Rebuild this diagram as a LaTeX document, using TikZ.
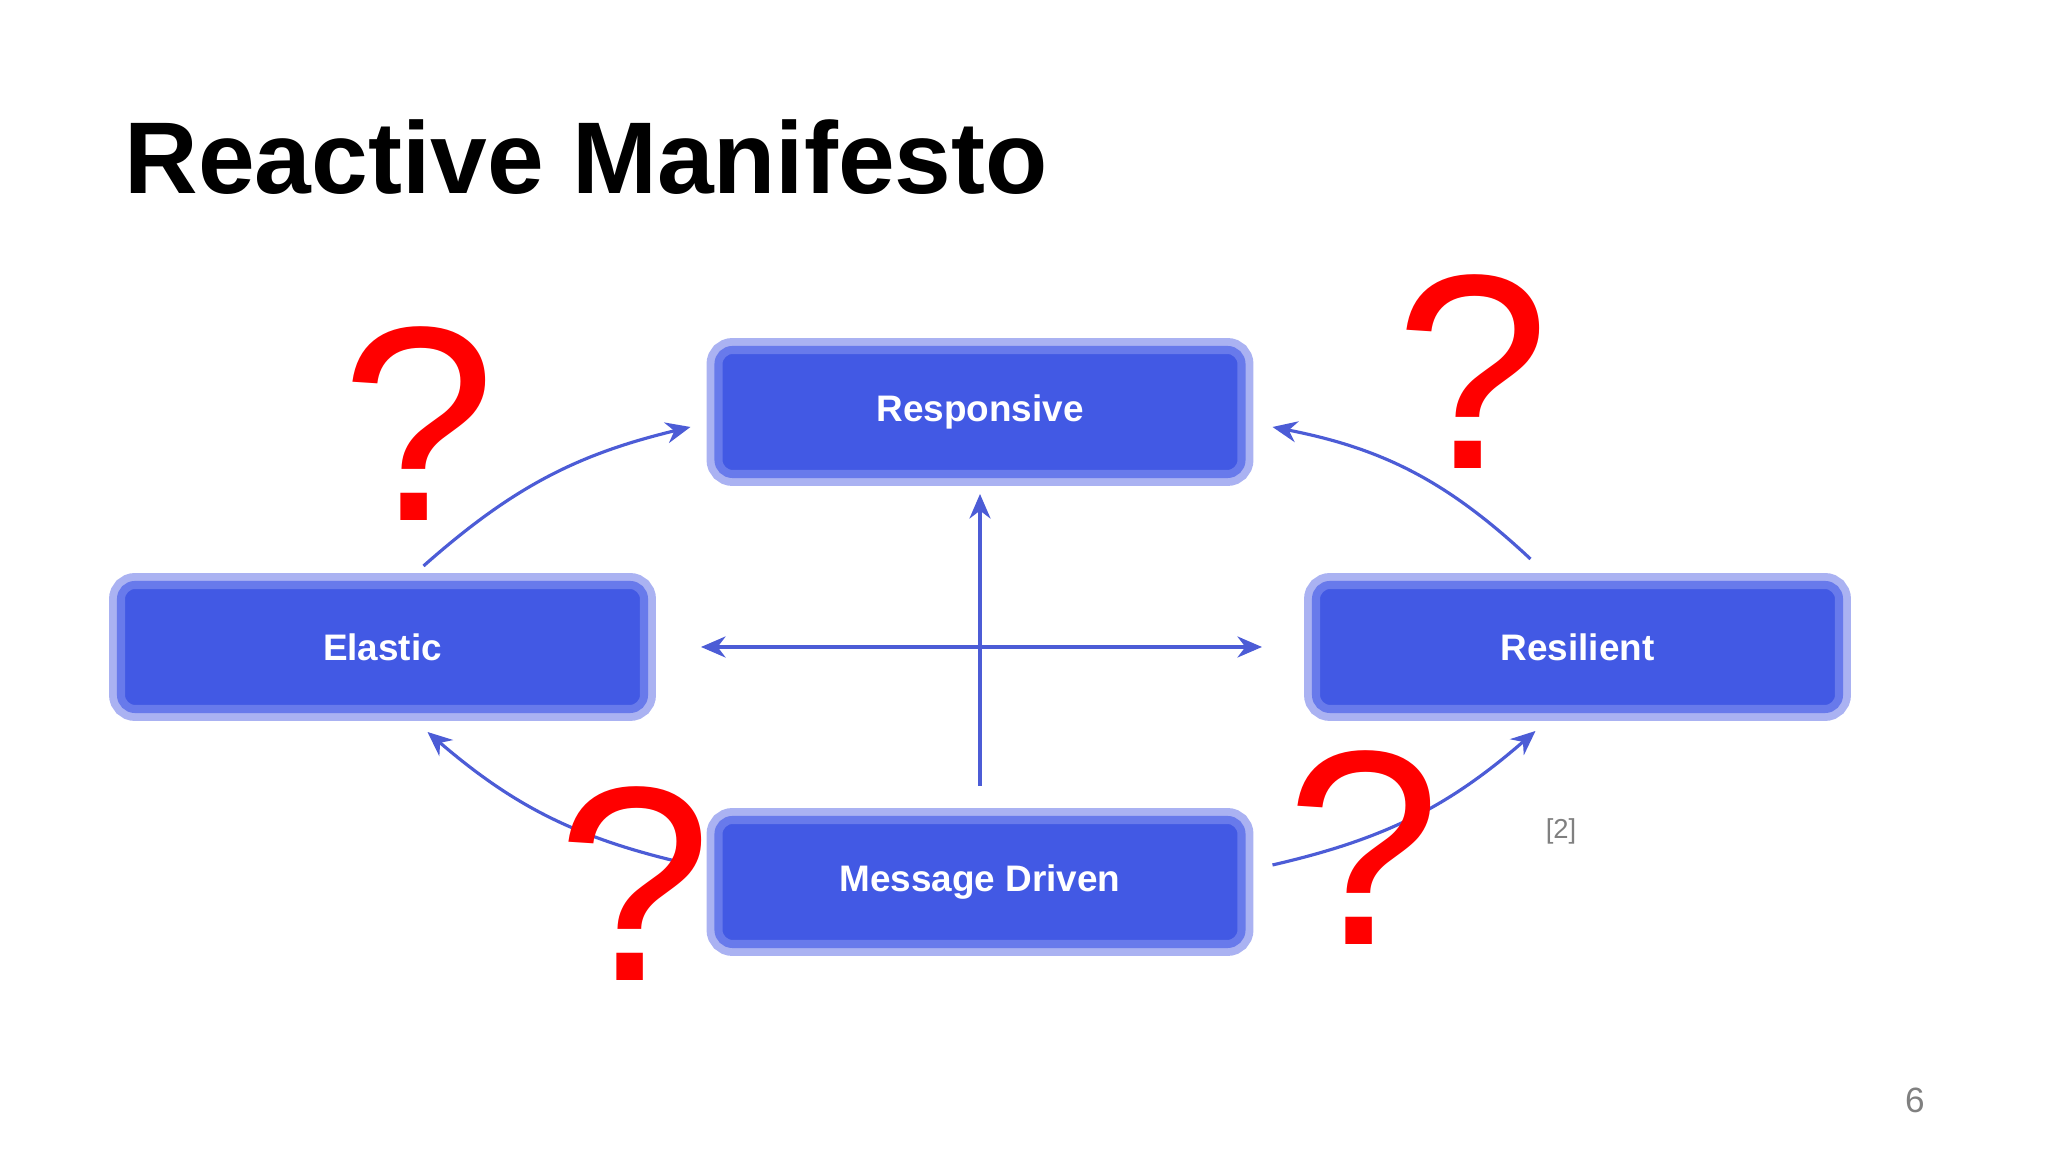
\documentclass[tikz,border=0pt]{standalone}
\usepackage{fontspec}
\setmainfont{Liberation Sans}
\usepackage{tikz}
\usetikzlibrary{positioning, arrows.meta, calc}

\definecolor{boxblue}{RGB}{66,89,228}
\definecolor{ringblue}{RGB}{104,122,235}
\definecolor{glowblue}{RGB}{170,178,242}
\definecolor{arrowblue}{RGB}{76,92,214}
\definecolor{qred}{RGB}{255,0,0}
\definecolor{notegray}{RGB}{128,128,128}

\begin{document}
\begin{tikzpicture}[
    boxnode/.style={rectangle, rounded corners=4pt, fill=boxblue, draw=ringblue, line width=2.3pt,
        preaction={draw=glowblue, line width=6.8pt},
        minimum width=5.23cm, minimum height=1.24cm, outer sep=0pt,
        text=white, font=\fontsize{10.5}{12}\selectfont\bfseries},
    arr/.style={draw=arrowblue, line width=0.9pt, -{Stealth[length=7pt, width=6pt]}},
    qmark/.style={text=qred, inner sep=0pt, font=\fontsize{79}{84}\selectfont},
]
\useasboundingbox (0,0) rectangle (20.48,11.52);

% title
\node[anchor=base west, inner sep=0pt, font=\fontsize{29}{34}\selectfont\bfseries](title) at (1.24,9.58){Reactive Manifesto};

% the four boxes
\node[boxnode](responsive) at (9.80,7.40){Responsive};
\node[boxnode](message)[below = 3.46cm of responsive]{Message Driven};
\coordinate (hub) at ($(responsive)!0.5!(message)$);
\node[boxnode](elastic)[left = 3.36cm of hub]{Elastic};
\node[boxnode](resilient)[right = 3.36cm of hub]{Resilient};

% connectors
\draw[arr, shorten <=0.34cm, shorten >=0.2cm] (message.north) -- (responsive.south);
\draw[arr, {Stealth[length=7pt, width=6pt]}-{Stealth[length=7pt, width=6pt]}, shorten <=0.57cm, shorten >=0.54cm] (elastic) -- (resilient);
\draw[arr] ([xshift=0.41cm, yshift=0.19cm]elastic.north) to[bend left=14] ([xshift=-0.28cm, yshift=-0.15cm]responsive.west);
\draw[arr] ([xshift=-0.47cm, yshift=0.26cm]resilient.north) to[bend right=16] ([xshift=0.31cm, yshift=-0.15cm]responsive.east);
\draw[arr] ([xshift=-0.26cm, yshift=0.17cm]message.west) to[bend left=14] ([xshift=0.45cm, yshift=-0.23cm]elastic.south);
\draw[arr] ([xshift=0.31cm, yshift=0.17cm]message.east) to[bend right=14] ([xshift=-0.42cm, yshift=-0.22cm]resilient.south);

% question marks
\node[qmark](q1) at (4.19,7.28){?};
\node[qmark](q2) at (14.73,7.80){?};
\node[qmark](q3) at (6.35,2.68){?};
\node[qmark](q4) at (13.64,3.04){?};

% reference and page number
\node[text=notegray, font=\fontsize{7.8}{9}\selectfont](ref) at (15.61,3.21){[2]};
\node[text=notegray, font=\fontsize{10}{12}\selectfont](page) at (19.15,0.52){6};
\end{tikzpicture}
\end{document}
